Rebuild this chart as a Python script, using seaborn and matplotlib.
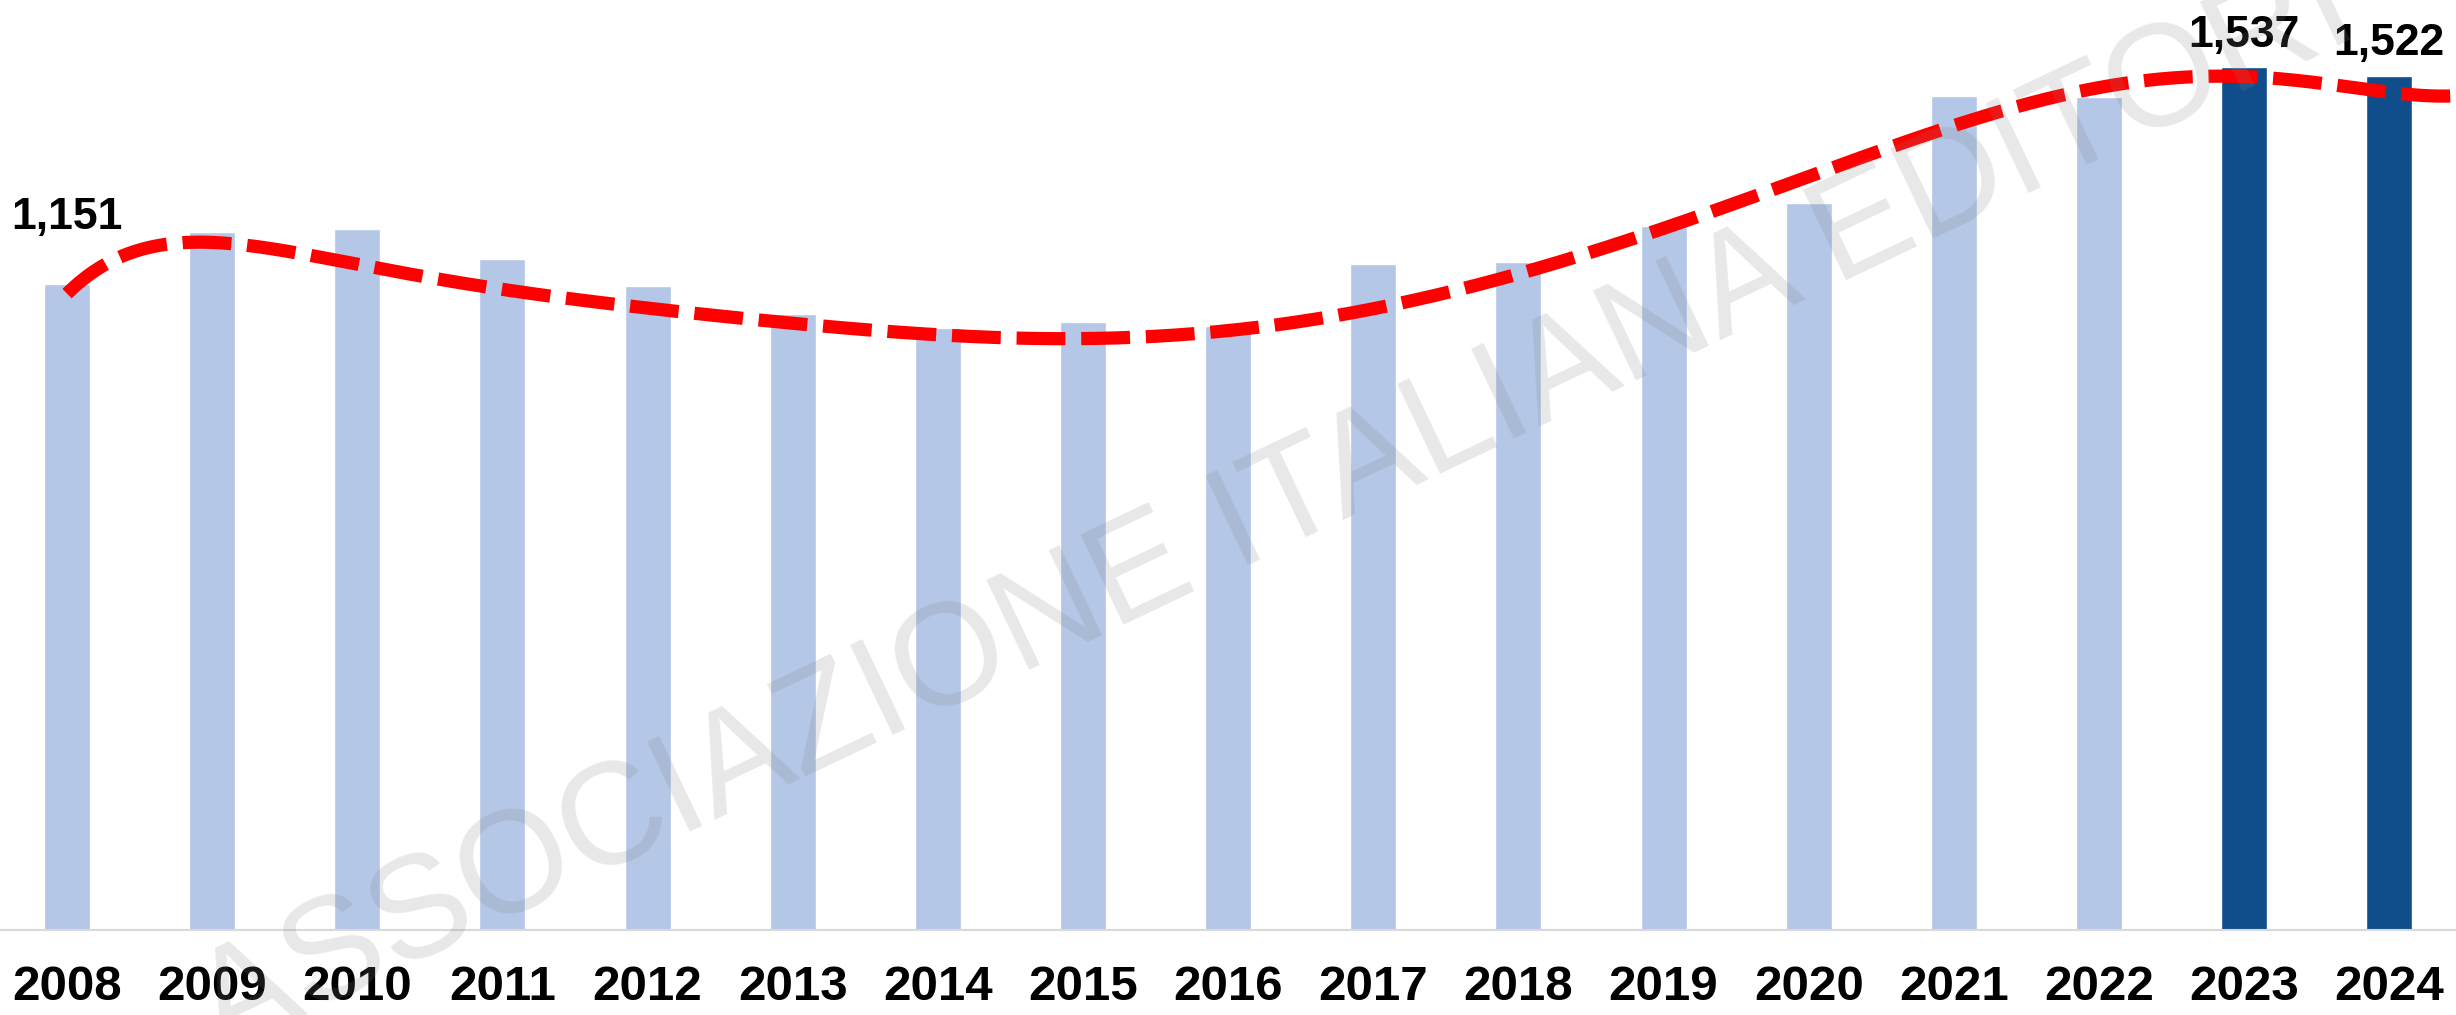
import numpy as np
import pandas as pd
import matplotlib
matplotlib.use("Agg")
import matplotlib.pyplot as plt
import seaborn as sns
from numpy.polynomial import Polynomial

# ---------------- data ----------------
years = ["2008", "2009", "2010", "2011", "2012", "2013", "2014", "2015", "2016",
         "2017", "2018", "2019", "2020", "2021", "2022", "2023", "2024"]
values = [1151, 1244, 1249, 1195, 1148, 1097, 1072, 1084, 1077,
          1186, 1190, 1255, 1296, 1486, 1484, 1537, 1522]
highlight = ["2023", "2024"]
labelled = ["2008", "2023", "2024"]

# trend line (polynomial trend), x in category index
trend_x = [0, 0.05, 0.1, 0.2, 0.5, 1, 1.5, 2, 2.5, 3, 4, 5, 6, 7, 8, 9, 10, 11, 12, 13, 14, 15, 16, 16.46]
trend_y = [1096, 1150, 1180, 1200, 1210, 1212, 1203, 1186, 1170, 1147, 1110, 1074, 1055, 1056, 1074,
           1113, 1165, 1236, 1348, 1446, 1494, 1514, 1502, 1482]

watermark = "ASSOCIAZIONE ITALIANA EDITORI"

# ---------------- style ----------------
LIGHT = "#B4C7E7"
DARK = "#104E8B"
sns.set_theme(style="white")
plt.rcParams["font.family"] = ["Liberation Sans", "DejaVu Sans"]

W, H, DPI = 2456, 1015, 100
fig = plt.figure(figsize=(W / DPI, H / DPI), dpi=DPI)
base_px = 930
ax = fig.add_axes([0, (H - base_px) / H, 1, base_px / H])

df = pd.DataFrame({"year": years, "value": values})
palette = {y: (DARK if y in highlight else LIGHT) for y in years}
sns.barplot(data=df, x="year", y="value", hue="year", palette=palette,
            width=0.317, legend=False, ax=ax, saturation=1, zorder=2)

# polynomial trend line
poly = Polynomial.fit(trend_x, trend_y, 9)
xs = np.linspace(trend_x[0], trend_x[-1], 600)
ys = poly(xs)
sns.lineplot(x=xs, y=ys, ax=ax, color="#FF0000", linewidth=9.5,
             linestyle=(0, (3.7, 1.2)), zorder=3, sort=False)
ax.lines[-1].set_dash_capstyle("butt")

# data labels
for i, (y, v) in enumerate(zip(years, values)):
    if y in labelled:
        off = 82 if i == 0 else 21
        ax.text(i, v + off, f"{v:,}", ha="center", va="bottom",
                fontsize=32, fontweight="bold", color="black", zorder=4)

ax.set_xlim(-0.462, 16.46)
ax.set_ylim(0, 1657)
ax.set_xlabel("")
ax.set_ylabel("")
ax.set_yticks([])
for s in ["top", "left", "right"]:
    ax.spines[s].set_visible(False)
ax.spines["bottom"].set_color("#D9D9D9")
ax.spines["bottom"].set_linewidth(1.5)
ax.spines["bottom"].set_zorder(5)
ax.tick_params(axis="x", length=0, pad=25.5, labelsize=35.5)
for lbl in ax.get_xticklabels():
    lbl.set_fontweight("bold")
    lbl.set_color("black")

# watermark on top of everything
fig.text(222 / W, 1 - 1055 / H, watermark, rotation=25.5, ha="left", va="baseline",
         fontsize=104, color="#848484", alpha=0.187, zorder=10,
         rotation_mode="anchor")

fig.savefig("out.png", dpi=DPI)
